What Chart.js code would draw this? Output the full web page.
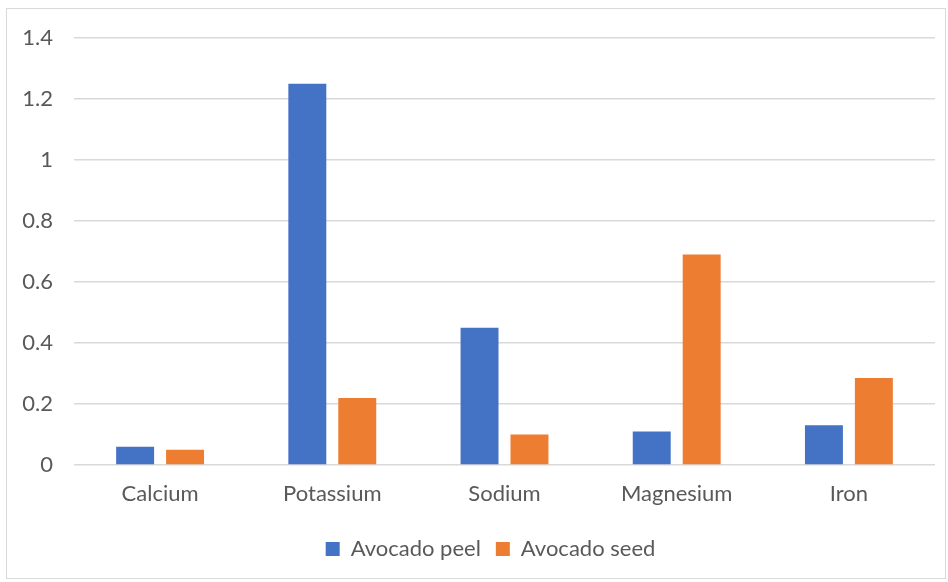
<!DOCTYPE html>
<html>
<head>
<meta charset="utf-8">
<script src="https://cdn.jsdelivr.net/npm/chart.js@4"></script>
<style>
  body { margin: 0; background: #fff; }
  #wrap { position: relative; width: 948px; height: 582px; }
  #frame { position: absolute; left: 6px; top: 8px; width: 938px; height: 569px; border: 1px solid #d9d9d9; }
  canvas { position: absolute; left: 0; top: 0; }
</style>
</head>
<body>
<div id="wrap">
  <div id="frame"></div>
  <canvas id="chart" width="948" height="582"></canvas>
</div>
<script>
const minerals = ["Calcium", "Potassium", "Sodium", "Magnesium", "Iron"];
const peelValues = [0.06, 1.25, 0.45, 0.11, 0.13];
const seedValues = [0.05, 0.22, 0.10, 0.69, 0.285];
const yTicks = [0, 0.2, 0.4, 0.6, 0.8, 1, 1.2, 1.4];

const textColor = "#595959";
const gridColor = "#d9d9d9";
const font = { family: "Lato, 'Open Sans', sans-serif", size: 22 };

// legend in the reference is centred a bit right of the canvas centre
const legendShift = {
  id: "legendShift",
  afterLayout(chart) {
    chart.legend.left += 46;
  }
};

const ctx = document.getElementById("chart").getContext("2d");
const chart = new Chart(ctx, {
  type: "bar",
  data: {
    labels: minerals,
    datasets: [
      { label: "Avocado peel", data: peelValues, backgroundColor: "#4472C4" },
      { label: "Avocado seed", data: seedValues, backgroundColor: "#ED7D31" }
    ]
  },
  options: {
    responsive: false,
    animation: false,
    categoryPercentage: 0.58,
    barPercentage: 0.76,
    layout: { padding: { left: 0, right: 13, top: 38, bottom: 12 } },
    plugins: {
      legend: {
        position: "bottom",
        labels: {
          color: textColor,
          font: font,
          boxWidth: 14,
          boxHeight: 14,
          padding: 15
        }
      },
      tooltip: { enabled: false }
    },
    scales: {
      x: {
        afterFit: (scale) => { scale.height = 58; },
        grid: { display: false, drawTicks: false },
        border: { display: false },
        ticks: { color: textColor, font: font, padding: 16 }
      },
      y: {
        min: 0,
        max: 1.4,
        afterBuildTicks: (scale) => {
          scale.ticks = yTicks.map(v => ({ value: v }));
        },
        afterFit: (scale) => { scale.width = 74; },
        grid: { color: gridColor, lineWidth: 1.5, drawTicks: false },
        border: { display: false },
        ticks: {
          color: textColor,
          font: font,
          padding: 21,
          callback: (v) => String(v)
        }
      }
    }
  },
  plugins: [legendShift]
});
</script>
</body>
</html>
